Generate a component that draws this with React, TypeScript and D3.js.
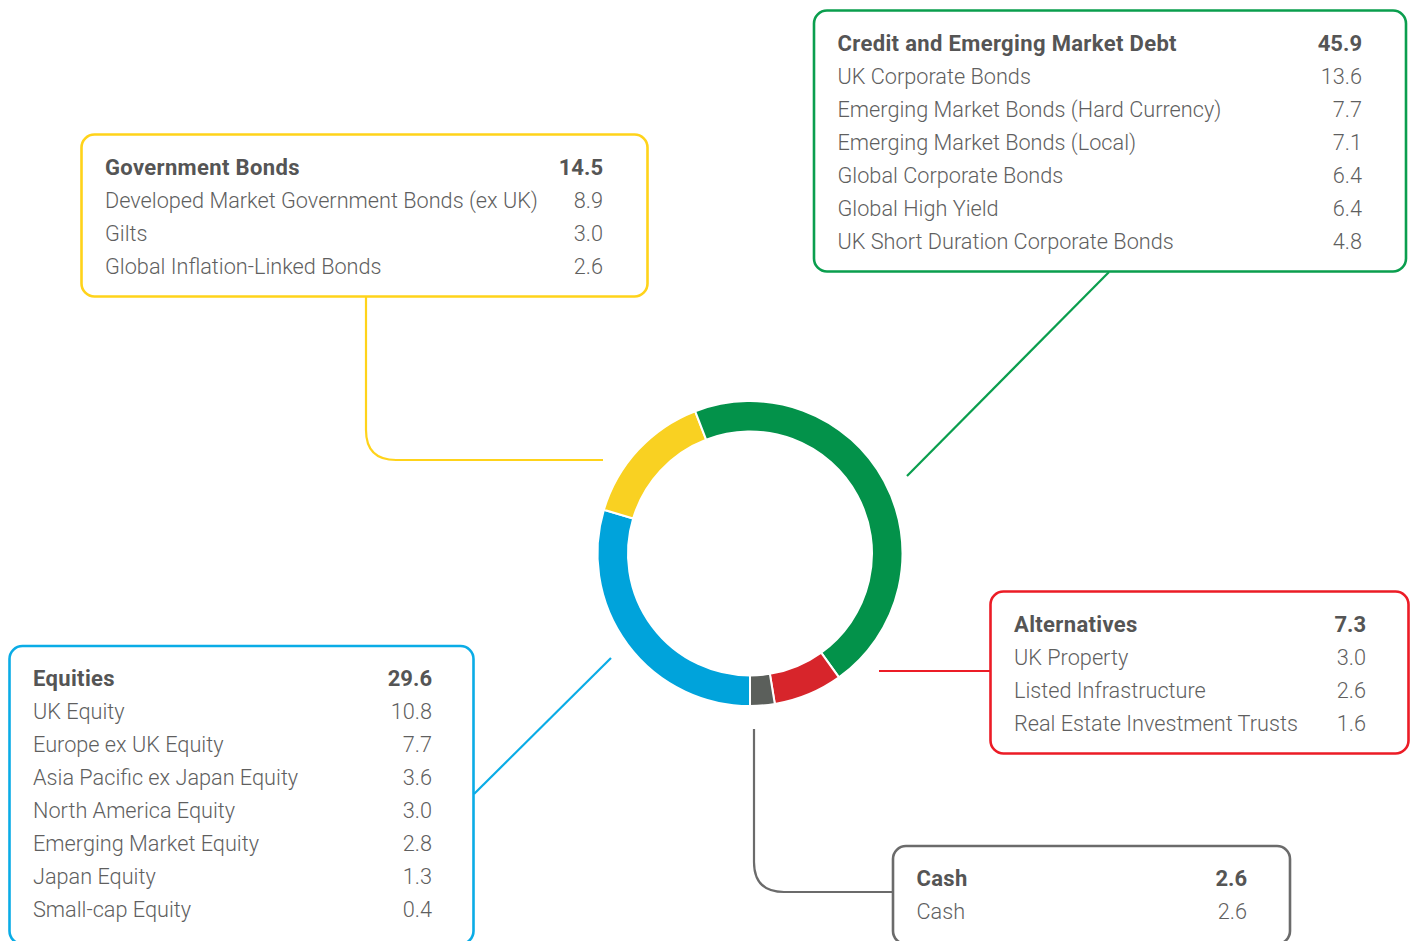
import React from "react";
import * as d3 from "d3";

// ---- Data ----
const categories = ["Equities", "Government Bonds", "Credit and Emerging Market Debt", "Alternatives", "Cash"];
const categoryTotals = [29.6, 14.5, 45.9, 7.3, 2.6];

const equitiesItems = ["UK Equity", "Europe ex UK Equity", "Asia Pacific ex Japan Equity", "North America Equity", "Emerging Market Equity", "Japan Equity", "Small-cap Equity"];
const equitiesValues = [10.8, 7.7, 3.6, 3.0, 2.8, 1.3, 0.4];

const govItems = ["Developed Market Government Bonds (ex UK)", "Gilts", "Global Inflation-Linked Bonds"];
const govValues = [8.9, 3.0, 2.6];

const creditItems = ["UK Corporate Bonds", "Emerging Market Bonds (Hard Currency)", "Emerging Market Bonds (Local)", "Global Corporate Bonds", "Global High Yield", "UK Short Duration Corporate Bonds"];
const creditValues = [13.6, 7.7, 7.1, 6.4, 6.4, 4.8];

const altItems = ["UK Property", "Listed Infrastructure", "Real Estate Investment Trusts"];
const altValues = [3.0, 2.6, 1.6];

const cashItems = ["Cash"];
const cashValues = [2.6];

// ---- Styles / layout ----
const segColors = ["#00A3DB", "#F9D122", "#03924A", "#D7252B", "#5B5F5B"];
const boxColors = ["#0AACE6", "#FFD31A", "#0A9E4E", "#EC1C26", "#6B6B6B"];

const W = 1415, H = 941;
const cx = 750, cy = 553.5, rOuter = 152.5, rInner = 122;

const boxes = [
  { x: 9.5, y: 646, w: 464, h: 298, valX: 432, items: equitiesItems, values: equitiesValues,
    connector: "M474,794 L611,658" },
  { x: 81.5, y: 134.5, w: 566, h: 162, valX: 603, items: govItems, values: govValues,
    connector: "M366,297 L366,430 Q366,460 396,460 L603,460" },
  { x: 814, y: 10.5, w: 592, h: 261, valX: 1362, items: creditItems, values: creditValues,
    connector: "M1109,272 L907,476" },
  { x: 990.5, y: 591.5, w: 418, h: 162, valX: 1366, items: altItems, values: altValues,
    connector: "M879,671 L990,671" },
  { x: 893, y: 846, w: 397, h: 98, valX: 1247, items: cashItems, values: cashValues,
    connector: "M754,729 L754,862 Q754,892 784,892 L893,892" },
];

const FONT = "Roboto, 'Noto Sans', sans-serif";

export default function App() {
  const pie = d3.pie<number>().sort(null).startAngle(Math.PI).endAngle(3 * Math.PI);
  const arcs = pie(categoryTotals);
  const arc = d3.arc<d3.PieArcDatum<number>>().innerRadius(rInner).outerRadius(rOuter);

  return (
    <svg width={W} height={H} style={{ position: "absolute", left: 0, top: 0, display: "block", background: "#fff" }}
      fontFamily={FONT}>
      {/* connectors */}
      {boxes.map((b, i) => (
        <path key={"c" + i} d={b.connector} fill="none" stroke={boxColors[i]} strokeWidth={2.2} />
      ))}
      {/* donut */}
      <g transform={`translate(${cx},${cy})`}>
        {arcs.map((a, i) => (
          <path key={i} d={arc(a) || ""} fill={segColors[i]} stroke="#fff" strokeWidth={2} />
        ))}
      </g>
      {/* boxes */}
      {boxes.map((b, i) => {
        const textX = b.x + 23.5;
        const row0 = b.y + 32.5;
        return (
          <g key={"b" + i}>
            <rect x={b.x} y={b.y} width={b.w} height={b.h} rx={13} ry={13} fill="#fff" stroke={boxColors[i]} strokeWidth={2.6} />
            <text x={textX} y={row0} dy="0.36em" fontSize={22} fontWeight={700} letterSpacing={0.35} fill="#555555">{categories[i]}</text>
            <text x={b.valX} y={row0} dy="0.36em" fontSize={22} fontWeight={700} fill="#555555" textAnchor="end">{categoryTotals[i].toFixed(1)}</text>
            {b.items.map((it, j) => (
              <g key={j}>
                <text x={textX} y={row0 + 33 * (j + 1)} dy="0.36em" fontSize={21.7} fontWeight={300} fill="#5f5f5f">{it}</text>
                <text x={b.valX} y={row0 + 33 * (j + 1)} dy="0.36em" fontSize={21.7} fontWeight={300} fill="#5f5f5f" textAnchor="end">{b.values[j].toFixed(1)}</text>
              </g>
            ))}
          </g>
        );
      })}
    </svg>
  );
}
